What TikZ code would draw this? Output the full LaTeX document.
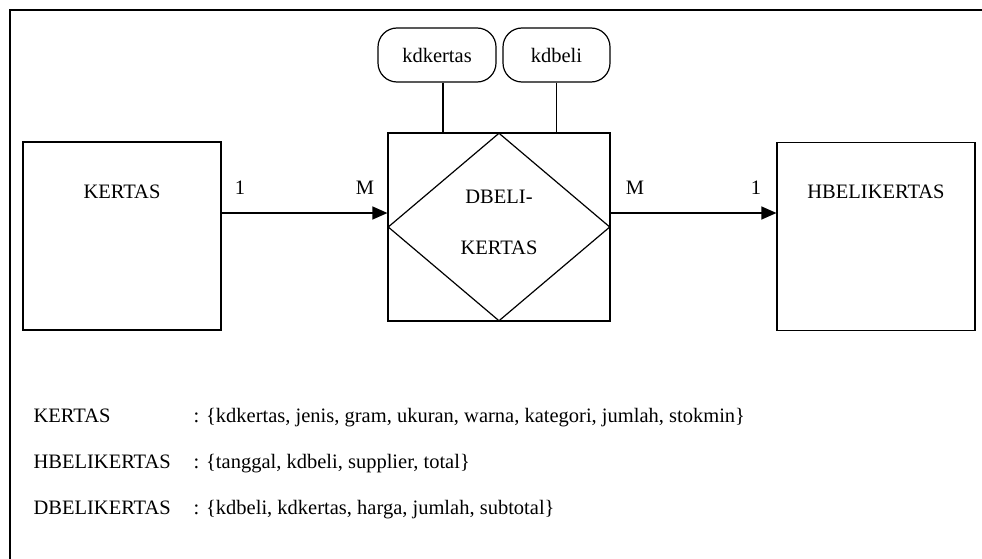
\documentclass[tikz,border=0pt]{standalone}
\usepackage{fontspec}
\setmainfont{Liberation Serif}
\usepackage{tikz}
\usetikzlibrary{arrows.meta,shapes.geometric}

\tikzset{
  entity/.style={draw, rectangle, inner sep=0pt, minimum width=198pt, minimum height=188pt},
  relbox/.style={draw, rectangle, inner sep=0pt, minimum width=222pt, minimum height=188pt},
  reldiamond/.style={draw, diamond, inner sep=0pt, minimum width=222pt, minimum height=188pt},
  attrib/.style={draw, rectangle, rounded corners=19pt, inner sep=0pt, minimum height=54pt},
  card/.style={inner sep=0pt},
  schema/.style={anchor=base west, inner sep=0pt}
}

\begin{document}
\begin{tikzpicture}[
    x=1pt, y=-1pt,
    >={Triangle[length=15pt,width=13pt]},
    line width=1.2pt,
    every node/.style={font=\rmfamily\fontsize{20.5}{23}\selectfont}
  ]
    \useasboundingbox (0,0) rectangle (982,559);
    % frame
    \draw[line width=1.7pt] (10,559) -- (10,10) -- (982,10);

    % entities and relationship
    \node[entity] (kertas) at (122,236) {};
    \node (kertasname) at (122,192) {KERTAS};
    \node[entity] (hbeli) at (876,236.5) {};
    \node (hbeliname) at (876,192) {HBELIKERTAS};
    \node[relbox] (rel) at (499,227) {};
    \node[reldiamond] (reldia) at (rel) {};
    \node[align=center, font=\rmfamily\fontsize{20.5}{51}\selectfont] (relname) at (499,222) {DBELI-\\KERTAS};

    % attributes
    \node[attrib, minimum width=118pt] (kdkertas) at (437,55) {kdkertas};
    \node[attrib, minimum width=107pt] (kdbeli) at (556.5,55) {kdbeli};
    \draw ([xshift=6pt]kdkertas.south) -- ([xshift=6pt]kdkertas.south |- rel.north);
    \draw (kdbeli.south) -- (kdbeli.south |- rel.north);

    % connectors
    \draw[->] ([yshift=23pt]kertas.east) -- ([yshift=23pt]kertas.east -| rel.west);
    \draw[->] ([yshift=14pt]rel.east) -- ([yshift=14pt]rel.east -| hbeli.west);
    \node[card] (c1) at (240,188) {1};
    \node[card] (c2) at (365,188) {M};
    \node[card] (c3) at (635,188) {M};
    \node[card] (c4) at (756,188) {1};

    % relations
    \node[schema] (t1) at (33,422) {KERTAS};
    \node[schema] (a1) at (193,422) {: \{kdkertas, jenis, gram, ukuran, warna, kategori, jumlah, stokmin\}};
    \node[schema] (t2) at (33,468) {HBELIKERTAS};
    \node[schema] (a2) at (193,468) {: \{tanggal, kdbeli, supplier, total\}};
    \node[schema] (t3) at (33,514) {DBELIKERTAS};
    \node[schema] (a3) at (193,514) {: \{kdbeli, kdkertas, harga, jumlah, subtotal\}};
  \end{tikzpicture}
\end{document}
